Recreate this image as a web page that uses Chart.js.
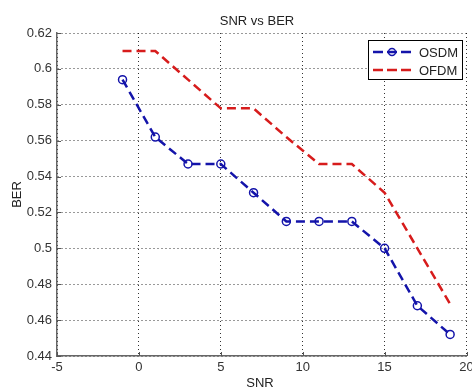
<!DOCTYPE html>
<html>
<head>
<meta charset="utf-8">
<script src="https://cdn.jsdelivr.net/npm/chart.js@4/dist/chart.umd.min.js"></script>
<style>
  body { margin: 0; background: #fff; }
  canvas { display: block; }
</style>
</head>
<body>
<canvas id="berChart" width="472" height="388"></canvas>
<script>
// data
const snrValues = [-1, 1, 3, 5, 7, 9, 11, 13, 15, 17, 19];
const osdmBer = [0.594, 0.562, 0.547, 0.547, 0.531, 0.515, 0.515, 0.515, 0.500, 0.468, 0.452];
const ofdmBer = [0.610, 0.610, 0.594, 0.578, 0.578, 0.562, 0.547, 0.547, 0.531, 0.500, 0.469];
const xTicks = [-5, 0, 5, 10, 15, 20];
const yTicks = [0.44, 0.46, 0.48, 0.5, 0.52, 0.54, 0.56, 0.58, 0.6, 0.62];
const seriesNames = ['OSDM', 'OFDM'];

const FONT = '"Liberation Sans", Arial, sans-serif';
const BLUE = 'rgb(20,20,170)';
const RED = 'rgb(215,28,28)';

// title, axis titles, inner tick marks and legend box, MATLAB style
const decorations = {
  id: 'decorations',
  afterDraw(chart) {
    const { ctx, chartArea: a, scales } = chart;
    ctx.save();
    ctx.fillStyle = '#222';
    ctx.font = '13px ' + FONT;
    ctx.textAlign = 'center';
    ctx.textBaseline = 'alphabetic';
    ctx.fillText('SNR vs BER', 257, 25);
    ctx.textBaseline = 'top';
    ctx.fillText('SNR', 260, 377);
    ctx.translate(17, (a.top + a.bottom) / 2);
    ctx.rotate(-Math.PI / 2);
    ctx.textBaseline = 'middle';
    ctx.fillText('BER', 0, 0);
    ctx.restore();

    // small ticks pointing into the plot
    ctx.save();
    ctx.strokeStyle = '#555';
    ctx.lineWidth = 1;
    ctx.beginPath();
    xTicks.forEach(v => {
      const px = Math.round(scales.x.getPixelForValue(v)) + 0.5;
      ctx.moveTo(px, a.bottom);
      ctx.lineTo(px, a.bottom - 4);
    });
    yTicks.forEach(v => {
      const py = Math.round(scales.y.getPixelForValue(v)) + 0.5;
      ctx.moveTo(a.left, py);
      ctx.lineTo(a.left + 4, py);
    });
    ctx.stroke();
    ctx.restore();

    // legend
    ctx.save();
    const bx = 368.5, by = 40.5, bw = 94, bh = 39;
    ctx.fillStyle = '#fff';
    ctx.fillRect(bx, by, bw, bh);
    ctx.strokeStyle = '#000';
    ctx.lineWidth = 1;
    ctx.strokeRect(bx, by, bw, bh);
    const rows = [52, 70];
    const colors = [BLUE, RED];
    rows.forEach((y, i) => {
      ctx.strokeStyle = colors[i];
      ctx.lineWidth = 2.5;
      ctx.setLineDash([10, 4]);
      ctx.beginPath();
      ctx.moveTo(373, y);
      ctx.lineTo(414, y);
      ctx.stroke();
      ctx.setLineDash([]);
      if (i === 0) {
        ctx.lineWidth = 1.5;
        ctx.beginPath();
        ctx.arc(392, y, 3.5, 0, Math.PI * 2);
        ctx.stroke();
      }
      ctx.fillStyle = '#222';
      ctx.font = '13px ' + FONT;
      ctx.textAlign = 'left';
      ctx.textBaseline = 'middle';
      ctx.fillText(seriesNames[i], 419, y + 1);
    });
    ctx.restore();
  }
};

new Chart(document.getElementById('berChart'), {
  type: 'line',
  data: {
    datasets: [
      {
        label: seriesNames[0],
        data: snrValues.map((x, i) => ({ x, y: osdmBer[i] })),
        borderColor: BLUE,
        borderWidth: 2.5,
        borderDash: [9, 5],
        pointRadius: 4,
        pointBorderWidth: 1.5,
        pointBorderColor: BLUE,
        pointBackgroundColor: 'rgba(255,255,255,0)',
        tension: 0
      },
      {
        label: seriesNames[1],
        data: snrValues.map((x, i) => ({ x, y: ofdmBer[i] })),
        borderColor: RED,
        borderWidth: 2.5,
        borderDash: [9, 5],
        pointRadius: 0,
        tension: 0
      }
    ]
  },
  options: {
    responsive: false,
    animation: false,
    devicePixelRatio: 1,
    layout: { padding: { top: 33, right: 4, left: 0, bottom: 0 } },
    plugins: {
      legend: { display: false },
      title: { display: false },
      tooltip: { enabled: false }
    },
    scales: {
      x: {
        type: 'linear',
        min: -5,
        max: 20,
        afterBuildTicks: s => { s.ticks = xTicks.map(v => ({ value: v })); },
        afterFit: s => { s.height = 32; s.paddingLeft = 0; s.paddingRight = 0; },
        grid: { color: 'rgba(0,0,0,0.8)', lineWidth: 1, drawTicks: false },
        border: { display: true, color: '#666', width: 1.5, dash: [1, 3] },
        ticks: {
          padding: 4,
          color: '#333',
          font: { family: FONT, size: 13 },
          maxRotation: 0,
          callback: v => String(v)
        }
      },
      y: {
        min: 0.44,
        max: 0.62,
        afterBuildTicks: s => { s.ticks = yTicks.map(v => ({ value: v })); },
        afterFit: s => { s.width = 57; s.paddingTop = 0; s.paddingBottom = 0; },
        grid: { color: 'rgba(0,0,0,0.8)', lineWidth: 1, drawTicks: false },
        border: { display: true, color: '#666', width: 1.5, dash: [1, 3] },
        ticks: {
          padding: 5,
          color: '#333',
          font: { family: FONT, size: 13 },
          callback: v => String(Number(v.toFixed(2)))
        }
      }
    }
  },
  plugins: [decorations]
});
</script>
</body>
</html>
